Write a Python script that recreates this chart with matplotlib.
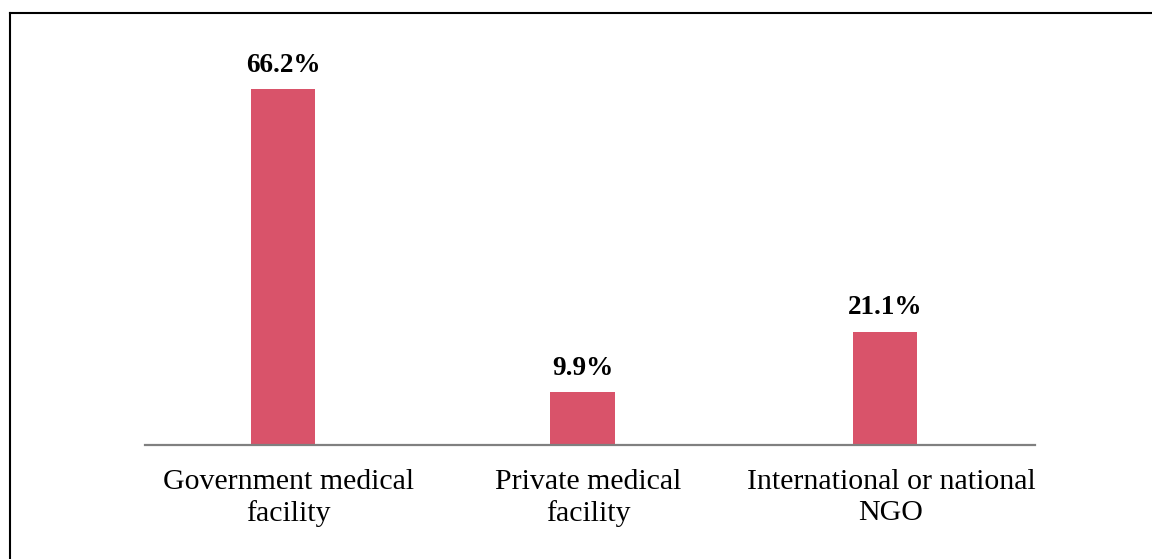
import matplotlib
matplotlib.use("Agg")
import matplotlib.pyplot as plt
from matplotlib.lines import Line2D
from matplotlib.transforms import ScaledTranslation

categories = ["Government medical\nfacility", "Private medical\nfacility", "International or national\nNGO"]
values = [66.2, 9.9, 21.1]
value_labels = ["66.2%", "9.9%", "21.1%"]

plt.rcParams['font.family'] = ['Liberation Serif', 'DejaVu Serif']

W, H = 1152, 559
fig = plt.figure(figsize=(W / 100, H / 100), dpi=100)

# axes placement in pixels
x0, x1 = 145, 1035
y_base, y_top = 445, 41.7
ax = fig.add_axes([x0 / W, (H - y_base) / H, (x1 - x0) / W, (y_base - y_top) / H])

bar_color = "#D9536A"
pos = [0, 0.995, 2.0]
ax.bar(pos, values, width=0.213, color=bar_color, zorder=2)

for p, v, lab in zip(pos, values, value_labels):
    ax.annotate(lab, (p, v), xytext=(0, 8), textcoords="offset points",
                ha="center", va="bottom", fontsize=19.5, fontweight="bold")

ax.set_xlim(-0.458, 2.498)
ax.set_ylim(0, 75)
ax.set_yticks([])
ax.set_xticks(pos)
ax.set_xticklabels(categories, fontsize=21.5, linespacing=1.28)
ax.tick_params(axis="x", length=0, pad=17)
shift = ScaledTranslation(6 / 100, 0, fig.dpi_scale_trans)
for t in ax.get_xticklabels():
    t.set_transform(t.get_transform() + shift)
for s in ["top", "right", "left"]:
    ax.spines[s].set_visible(False)
ax.spines["bottom"].set_color("#808080")
ax.spines["bottom"].set_linewidth(1.6)

# frame lines along the top and left edge
fig.add_artist(Line2D([10 / W, 1.0], [1 - 13 / H, 1 - 13 / H], color="black", lw=1.5, transform=fig.transFigure))
fig.add_artist(Line2D([10 / W, 10 / W], [0, 1 - 13 / H], color="black", lw=1.5, transform=fig.transFigure))

fig.savefig("out.png", dpi=100)
